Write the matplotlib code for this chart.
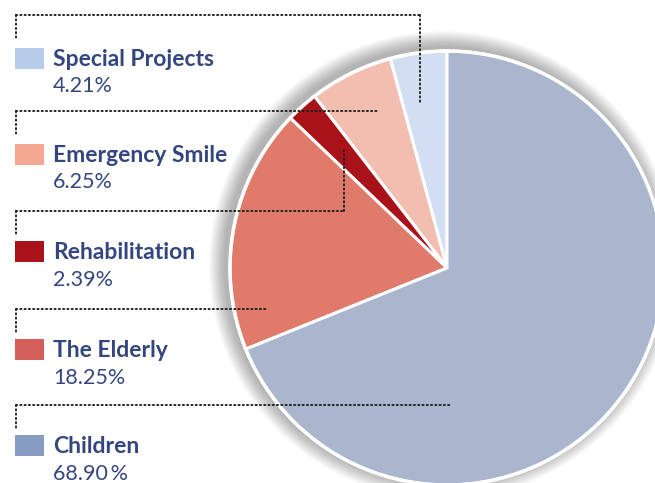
import matplotlib
matplotlib.use("Agg")
import matplotlib.pyplot as plt
from matplotlib.patches import Circle

categories = ["Special Projects", "Emergency Smile", "Rehabilitation", "The Elderly", "Children"]
values = [4.21, 6.25, 2.39, 18.25, 68.90]
pct_labels = ["4.21%", "6.25%", "2.39%", "18.25%", "68.90\u2009%"]
legend_colors = ["#b7cbea", "#f4a892", "#a91219", "#d45e58", "#869dc1"]
pie_colors = ["#d2def1", "#f2beb0", "#a91219", "#e07a6a", "#a9b6cd"]

W, H = 655, 483
fig = plt.figure(figsize=(W / 100, H / 100), dpi=100)
ax = fig.add_axes([0, 0, 1, 1])

def Y(y):
    return H - y

cx, cy, r = 447, 268, 217

# soft shadow
for i in range(16):
    ax.add_patch(Circle((cx - 4, Y(cy - 3)), r + 2 + i * 1.0, color="black",
                        alpha=0.02, lw=0, zorder=1))

ax.pie(values, colors=pie_colors, startangle=90, counterclock=True,
       center=(cx, Y(cy)), radius=r,
       wedgeprops=dict(edgecolor="white", linewidth=2.2), frame=False)
ax.add_patch(Circle((cx, Y(cy)), r, fill=False, edgecolor="white", lw=2.5, zorder=5))

ax.set_xlim(0, W)
ax.set_ylim(0, H)
ax.set_aspect("auto")
ax.axis("off")

navy = "#34467f"
dot = dict(color="#222222", lw=1.4, linestyle=(0, (0.6, 1.6)), dash_capstyle="round", zorder=10)

conns = [
    (15, 420, ("down", 103)),
    (111, 378, None),
    (211, 344, ("up", 147)),
    (309, 268, None),
    (405, 450, None),
]
for (hy, rx, extra) in conns:
    ax.plot([16, rx], [Y(hy), Y(hy)], **dot)
    ax.plot([16, 16], [Y(hy), Y(hy + 24)], **dot)
    if extra is not None:
        ax.plot([rx, rx], [Y(hy), Y(extra[1])], **dot)

tops = [48, 144, 241, 339, 435]
for i, (cat, pl, col) in enumerate(zip(categories, pct_labels, legend_colors)):
    t = tops[i]
    ax.add_patch(plt.Rectangle((15, Y(t + 21)), 29, 21, color=col, lw=0, zorder=10))
    ax.text(53, Y(t + 11.5), cat, fontsize=16.5, fontweight="bold", color=navy,
            family="Lato", va="center", ha="left")
    ax.text(53, Y(t + 38.5), pl, fontsize=15.5, color=navy,
            family="Lato", va="center", ha="left")

fig.savefig("out.png", dpi=100)
